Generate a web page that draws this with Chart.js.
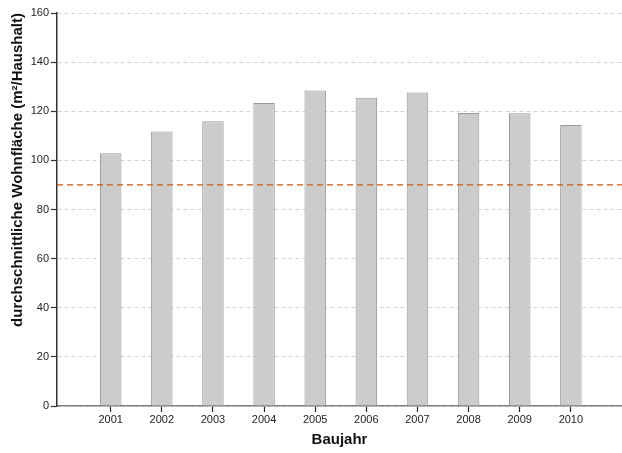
<!DOCTYPE html>
<html><head><meta charset="utf-8">
<script src="https://cdn.jsdelivr.net/npm/chart.js@4"></script>
<style>html,body{margin:0;padding:0;background:#fff}#w{width:622px;height:453px}</style>
</head><body><div id="w"><canvas id="c"></canvas></div>
<script>
const years = [2001, 2002, 2003, 2004, 2005, 2006, 2007, 2008, 2009, 2010];
const values = [102.9, 111.8, 115.9, 123.4, 128.4, 125.5, 127.6, 119.3, 119.2, 114.4];
const refValue = 90;
const xMin = 1999.95, xMax = 2011;
const yTicks = [0, 20, 40, 60, 80, 100, 120, 140, 160];

Chart.defaults.font.family = '"Liberation Sans", Arial, sans-serif';
Chart.defaults.color = '#222';

new Chart(document.getElementById('c'), {
  type: 'bar',
  data: {
    datasets: [
      {
        type: 'line',
        data: [{x: xMin, y: refValue}, {x: xMax, y: refValue}],
        borderColor: '#c9580c',
        borderWidth: 1.3,
        borderDash: [6, 4],
        pointRadius: 0,
        fill: false,
        order: 0
      },
      {
        data: years.map((y, i) => ({x: y, y: values[i]})),
        backgroundColor: '#cccccc',
        borderColor: '#999999',
        borderWidth: 1,
        categoryPercentage: 1,
        barPercentage: 0.42,
        order: 1
      }
    ]
  },
  options: {
    responsive: true,
    maintainAspectRatio: false,
    animation: false,
    layout: {padding: {top: 13, right: 0, left: 0, bottom: 0}},
    plugins: {legend: {display: false}, tooltip: {enabled: false}},
    scales: {
      x: {
        type: 'linear',
        min: xMin, max: xMax,
        offset: false,
        afterBuildTicks: s => { s.ticks = years.map(v => ({value: v})); },
        ticks: {
          font: {size: 11},
          color: '#222',
          padding: 1,
          maxRotation: 0,
          callback: v => String(v)
        },
        grid: {
          offset: false,
          drawOnChartArea: false,
          tickLength: 6,
          tickColor: '#222',
          tickWidth: 1.2
        },
        border: {display: true, color: '#808080', width: 1.5},
        title: {display: true, text: 'Baujahr', font: {size: 15, weight: 'bold'}, color: '#111', padding: {top: 6, bottom: 4}},
        afterFit: s => { s.height = 47; }
      },
      y: {
        min: 0, max: 160,
        afterBuildTicks: s => { s.ticks = yTicks.map(v => ({value: v})); },
        ticks: {font: {size: 11}, color: '#222', padding: 2},
        grid: {
          color: '#d4d4d4',
          lineWidth: 1,
          tickLength: 6,
          tickColor: '#333',
          tickWidth: 1.2,
          tickBorderDash: []
        },
        border: {display: true, color: '#333', width: 1.5, dash: [4, 3]},
        title: {display: true, text: 'durchschnittliche Wohnfläche (m²/Haushalt)', align: 'end', font: {size: 15, weight: 'bold'}, color: '#111', padding: {top: 9, bottom: 4}},
        afterFit: s => { s.width = 57; }
      }
    }
  }
});
</script>
</body></html>
